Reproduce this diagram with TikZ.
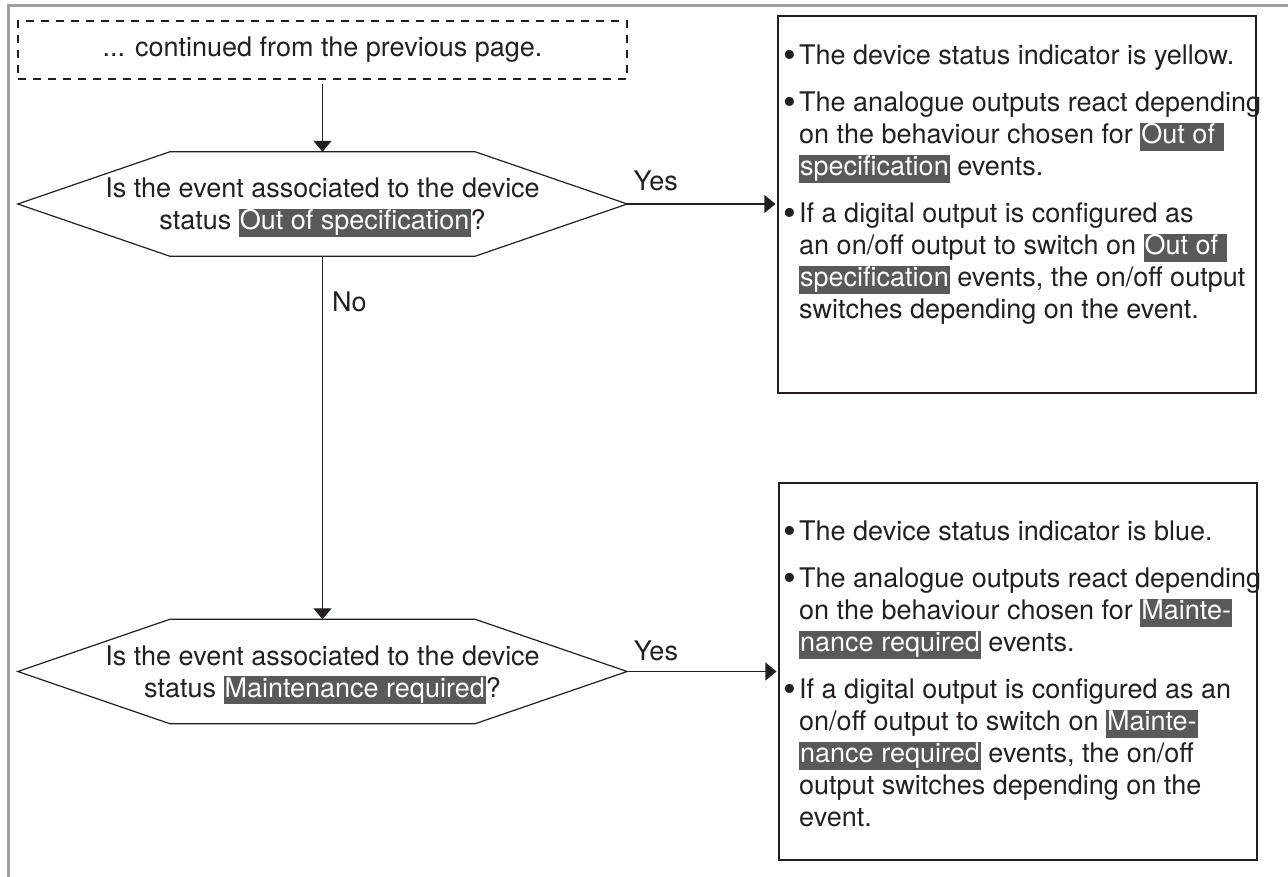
\documentclass[tikz,border=0pt]{standalone}
\usepackage{fontspec}
\usepackage{graphicx}
\setmainfont{TeX Gyre Heros}
\usetikzlibrary{arrows.meta, calc}
\definecolor{framegray}{RGB}{160,160,160}
\definecolor{markgray}{RGB}{88,89,91}
\definecolor{inkblack}{RGB}{35,31,32}
\newcommand{\hlterm}[1]{{\setlength{\fboxsep}{1pt}\colorbox{markgray}{\textcolor{white}{\vphantom{Ojp}#1}}}}
\newcommand{\itembullet}{\llap{\raisebox{-2.5pt}{\scalebox{1.35}{\textbullet}}\hspace{3pt}}}

\begin{document}
\begin{tikzpicture}[x=1pt, y=-1pt,
    every node/.style={font=\fontsize{27}{32}\selectfont, text=inkblack},
    contbox/.style={draw=inkblack, line width=1.2pt, dash pattern=on 8pt off 7pt,
      minimum width=609pt, minimum height=58pt, inner sep=0pt},
    decision/.style={minimum width=609pt, minimum height=104pt, inner sep=0pt,
      align=center, text depth=0pt},
    answerbox/.style={draw=inkblack, line width=1.2pt, minimum width=478pt, inner sep=0pt},
    answertext/.style={anchor=north west, inner sep=0pt, align=left},
    flowarrow/.style={-{Triangle[length=11pt, width=18pt]}, line width=1.2pt, draw=inkblack},
    branch/.style={inner sep=0pt}]

    \useasboundingbox (0,0) rectangle (1288,877);

    % page frame
    \draw[framegray, line width=3pt] (8,877) -- (8,5.5) -- (1288,5.5);

    % continued box
    \node[contbox] (cont) at (322.5,50) {... continued from the previous page.};

    % decisions
    \node[decision] (q1) at (322.5,204)
      {Is the event associated to the device\\ status \hlterm{Out of specification}?};
    \node[decision] (q2) at (322.5,671.5)
      {Is the event associated to the device\\ status \hlterm{Maintenance required}?};
    \foreach \q in {q1, q2}{
      \draw[inkblack, line width=1.2pt]
        (\q.west) -- ($(\q.north west)+(152,0)$) -- ($(\q.north east)+(-152,0)$)
        -- (\q.east) -- ($(\q.south east)+(-152,0)$) -- ($(\q.south west)+(152,0)$) -- cycle;
    }

    % answer boxes
    \node[answerbox, minimum height=377pt] (ans1) at (1017,204.5) {};
    \node[answerbox, minimum height=377pt] (ans2) at (1018,671.5) {};

    \node[answertext] (txt1) at (799,45) {%
      \itembullet The device status indicator is yellow.\\[15pt]
      \itembullet The analogue outputs react depending\\
      on the behaviour chosen for \hlterm{Out of\ }\\
      \hlterm{specification} events.\\[15pt]
      \itembullet If a digital output is configured as\\
      an on/off output to switch on \hlterm{Out of\ }\\
      \hlterm{specification} events, the on/off output\\
      switches depending on the event.};

    \node[answertext] (txt2) at (799,521) {%
      \itembullet The device status indicator is blue.\\[15pt]
      \itembullet The analogue outputs react depending\\
      on the behaviour chosen for \hlterm{Mainte-}\\
      \hlterm{nance required} events.\\[15pt]
      \itembullet If a digital output is configured as an\\
      on/off output to switch on \hlterm{Mainte-}\\
      \hlterm{nance required} events, the on/off\\
      output switches depending on the\\
      event.};

    % connectors
    \draw[flowarrow, shorten <=4pt] (cont) -- (q1);
    \draw[flowarrow] (q1) -- (q2)
      node[branch, pos=0.127, right=9pt] {No};
    \draw[flowarrow, shorten >=2pt] (q1.east) -- (q1.east -| ans1.west)
      node[branch, pos=0.19, above=12pt] {Yes};
    \draw[flowarrow, shorten >=2pt] (q2.east) -- (q2.east -| ans2.west)
      node[branch, pos=0.19, above=10pt] {Yes};

\end{tikzpicture}
\end{document}
